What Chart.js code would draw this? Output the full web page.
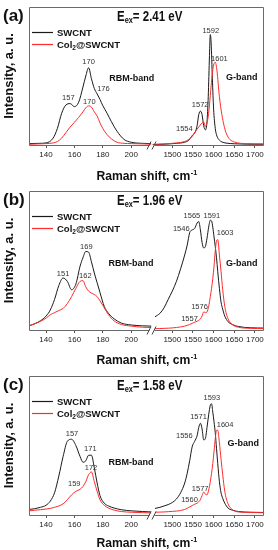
<!DOCTYPE html>
<html>
<head>
<meta charset="utf-8">
<script src="https://cdn.jsdelivr.net/npm/chart.js@4.4.1/dist/chart.umd.min.js"></script>
<style>
  html, body { margin: 0; padding: 0; background: #fff; }
  canvas { display: block; }
</style>
</head>
<body>
<canvas id="chartA" width="278" height="184"></canvas>
<canvas id="chartB" width="278" height="185"></canvas>
<canvas id="chartC" width="278" height="181"></canvas>
<script>
/* Raman spectra, SWCNT vs Col2@SWCNT, three excitation energies.
   Broken x axis: RBM range on x1, G range on x2 (stacked bottom axes). */

var rbmTicks = [140, 160, 180, 200];
var gTicks = [1500, 1550, 1600, 1650, 1700];
var seriesNames = ['SWCNT', 'Col2@SWCNT'];
var energies = ['2.41', '1.96', '1.58'];

// (a) E = 2.41 eV
var aRbmX   = [128, 135, 140, 145, 148, 151, 154, 157, 160, 163, 166, 168, 170, 172, 174, 176, 178, 180, 183, 186, 190, 195, 200, 208, 214];
var aRbmSw  = [0.01, 0.012, 0.015, 0.05, 0.12, 0.23, 0.29, 0.30, 0.278, 0.31, 0.42, 0.50, 0.56, 0.48, 0.41, 0.37, 0.33, 0.285, 0.23, 0.17, 0.10, 0.04, 0.02, 0.012, 0.01];
var aRbmCol = [0.005, 0.008, 0.01, 0.015, 0.025, 0.05, 0.09, 0.13, 0.165, 0.20, 0.24, 0.27, 0.283, 0.275, 0.24, 0.21, 0.16, 0.12, 0.075, 0.045, 0.02, 0.012, 0.01, 0.008, 0.006];
var aGX     = [1452, 1480, 1510, 1530, 1540, 1546, 1550, 1555, 1560, 1564, 1568, 1572, 1576, 1580, 1584, 1587, 1590, 1592, 1594, 1597, 1600, 1604, 1608, 1614, 1620, 1630, 1650, 1680, 1722];
var aGSw    = [0.003, 0.006, 0.012, 0.02, 0.035, 0.06, 0.075, 0.09, 0.14, 0.22, 0.245, 0.22, 0.14, 0.11, 0.17, 0.35, 0.65, 0.80, 0.74, 0.48, 0.26, 0.12, 0.065, 0.035, 0.022, 0.014, 0.009, 0.006, 0.005];
var aGCol   = [0.004, 0.008, 0.015, 0.025, 0.04, 0.055, 0.07, 0.095, 0.115, 0.13, 0.145, 0.16, 0.165, 0.135, 0.16, 0.21, 0.29, 0.36, 0.43, 0.52, 0.58, 0.60, 0.54, 0.35, 0.22, 0.09, 0.022, 0.01, 0.008];

// (b) E = 1.96 eV
var bRbmX   = [128, 132, 136, 140, 143, 146, 149, 152, 155, 158, 161, 164, 166, 168, 170, 172, 174, 176, 178, 181, 184, 188, 193, 200, 208, 214];
var bRbmSw  = [0.03, 0.045, 0.066, 0.10, 0.144, 0.22, 0.32, 0.374, 0.35, 0.29, 0.33, 0.46, 0.52, 0.565, 0.56, 0.49, 0.41, 0.34, 0.27, 0.17, 0.12, 0.08, 0.05, 0.036, 0.03, 0.028];
var bRbmCol = [0.03, 0.045, 0.062, 0.085, 0.11, 0.125, 0.14, 0.155, 0.19, 0.24, 0.30, 0.35, 0.355, 0.31, 0.28, 0.265, 0.255, 0.24, 0.21, 0.16, 0.11, 0.065, 0.04, 0.028, 0.02, 0.018];
var bGX     = [1458, 1470, 1480, 1490, 1500, 1510, 1520, 1530, 1536, 1542, 1548, 1554, 1560, 1564, 1568, 1572, 1576, 1580, 1584, 1588, 1592, 1595, 1598, 1601, 1604, 1607, 1610, 1614, 1618, 1622, 1627, 1635, 1645, 1660, 1690, 1722];
var bGSw    = [0.095, 0.12, 0.16, 0.22, 0.28, 0.35, 0.44, 0.54, 0.61, 0.70, 0.72, 0.73, 0.77, 0.78, 0.72, 0.63, 0.59, 0.60, 0.66, 0.74, 0.79, 0.785, 0.74, 0.67, 0.60, 0.52, 0.42, 0.30, 0.20, 0.15, 0.10, 0.06, 0.04, 0.025, 0.016, 0.014];
var bGCol   = [0.01, 0.01, 0.012, 0.013, 0.015, 0.018, 0.022, 0.028, 0.033, 0.04, 0.048, 0.056, 0.062, 0.07, 0.08, 0.10, 0.13, 0.125, 0.13, 0.17, 0.24, 0.30, 0.37, 0.46, 0.57, 0.64, 0.65, 0.54, 0.42, 0.29, 0.17, 0.08, 0.04, 0.02, 0.012, 0.01];

// (c) E = 1.58 eV
var cRbmX   = [128, 132, 136, 140, 143, 146, 149, 152, 155, 158, 161, 164, 166, 168, 170, 172, 174, 176, 178, 181, 184, 188, 193, 200, 208, 214];
var cRbmSw  = [0.04, 0.045, 0.055, 0.07, 0.10, 0.16, 0.28, 0.42, 0.53, 0.545, 0.50, 0.42, 0.38, 0.39, 0.43, 0.43, 0.34, 0.23, 0.14, 0.085, 0.065, 0.05, 0.038, 0.03, 0.025, 0.022];
var cRbmCol = [0.03, 0.034, 0.038, 0.043, 0.047, 0.055, 0.065, 0.08, 0.11, 0.145, 0.17, 0.185, 0.205, 0.24, 0.29, 0.31, 0.24, 0.17, 0.11, 0.07, 0.05, 0.035, 0.025, 0.02, 0.017, 0.015];
var cGX     = [1458, 1470, 1480, 1490, 1500, 1510, 1520, 1530, 1536, 1542, 1548, 1554, 1560, 1564, 1568, 1572, 1576, 1580, 1584, 1588, 1592, 1595, 1598, 1601, 1604, 1607, 1610, 1614, 1618, 1622, 1627, 1635, 1645, 1660, 1690, 1722];
var cGSw    = [0.047, 0.055, 0.065, 0.075, 0.09, 0.115, 0.16, 0.23, 0.30, 0.39, 0.49, 0.53, 0.57, 0.63, 0.66, 0.62, 0.54, 0.55, 0.63, 0.72, 0.79, 0.80, 0.74, 0.67, 0.59, 0.48, 0.37, 0.24, 0.16, 0.12, 0.085, 0.05, 0.035, 0.025, 0.02, 0.018];
var cGCol   = [0.02, 0.021, 0.022, 0.024, 0.026, 0.028, 0.032, 0.04, 0.048, 0.058, 0.068, 0.077, 0.085, 0.095, 0.11, 0.14, 0.165, 0.15, 0.145, 0.18, 0.24, 0.30, 0.37, 0.46, 0.55, 0.61, 0.61, 0.52, 0.40, 0.29, 0.17, 0.08, 0.04, 0.022, 0.018, 0.016];

// peak labels: [text, axis, x, y, bold]
var aNotes = [
    ['170', 'x1', 170, 0.60], ['157', 'x1', 155.7, 0.343], ['176', 'x1', 180.4, 0.407], ['170', 'x1', 170.5, 0.314],
    ['RBM-band', 'x1', 200.4, 0.48, 1],
    ['1592', 'x2', 1593, 0.83], ['1601', 'x2', 1614, 0.626], ['1572', 'x2', 1567.5, 0.288], ['1554', 'x2', 1529, 0.12],
    ['G-band', 'x2', 1668, 0.486, 1]
];
var bNotes = [
    ['169', 'x1', 168.4, 0.594], ['151', 'x1', 152, 0.404], ['162', 'x1', 167.7, 0.392],
    ['RBM-band', 'x1', 199.9, 0.48, 1],
    ['1565', 'x2', 1547.5, 0.823], ['1591', 'x2', 1595.6, 0.823], ['1546', 'x2', 1521.7, 0.728], ['1603', 'x2', 1627.7, 0.695],
    ['G-band', 'x2', 1668, 0.475, 1], ['1576', 'x2', 1565.8, 0.168], ['1557', 'x2', 1541.7, 0.08]
];
var cNotes = [
    ['157', 'x1', 158.3, 0.58], ['171', 'x1', 171.2, 0.473], ['172', 'x1', 171.7, 0.338], ['159', 'x1', 159.9, 0.22],
    ['RBM-band', 'x1', 199.9, 0.379, 1],
    ['1593', 'x2', 1595.6, 0.84], ['1571', 'x2', 1563.5, 0.705], ['1556', 'x2', 1529, 0.567], ['1604', 'x2', 1627.7, 0.645],
    ['G-band', 'x2', 1672, 0.515, 1], ['1577', 'x2', 1567.5, 0.19], ['1560', 'x2', 1541.7, 0.111]
];

var BLACK = '#1a1a1a', RED = '#ff2b2b', FONT = "'Liberation Sans', Arial, sans-serif";
Chart.defaults.font.family = FONT;
Chart.defaults.color = '#222';

function pts(xs, ys) {
    return xs.map(function (x, i) { return { x: x, y: ys[i] }; });
}

// text squeezed horizontally (the figure is a bit narrower than it is tall)
function squeezed(ctx, str, x, y, font, sx) {
    ctx.save();
    ctx.font = font;
    ctx.translate(x, y);
    ctx.scale(sx, 1);
    ctx.fillText(str, 0, 0);
    var w = ctx.measureText(str).width * sx;
    ctx.restore();
    return w;
}

var decor = {
    id: 'decor',
    afterDraw: function (chart, args, o) {
        var ctx = chart.ctx, a = chart.chartArea;
        var L = Math.round(a.left) + 0.5, R = Math.round(a.right) - 0.5;
        var T = Math.round(a.top) + 0.5, B = Math.round(a.bottom) + 0.5;
        var jx = chart.scales.x2.left;
        ctx.save();

        // frame with a gap where the axis breaks
        ctx.strokeStyle = '#6a6a6a';
        ctx.lineWidth = 1;
        ctx.beginPath();
        ctx.moveTo(jx - 3, B); ctx.lineTo(L, B); ctx.lineTo(L, T);
        ctx.lineTo(R, T); ctx.lineTo(R, B); ctx.lineTo(jx + 2, B);
        ctx.stroke();
        ctx.strokeStyle = '#444';
        ctx.beginPath();
        [-3.5, 1.5].forEach(function (d) {
            ctx.moveTo(jx + d - 2, B + 4); ctx.lineTo(jx + d + 2, B - 4);
        });
        ctx.stroke();

        // legend
        ctx.lineWidth = 1.2;
        ctx.fillStyle = '#111';
        ctx.textBaseline = 'alphabetic';
        [[BLACK, 32], [RED, 44]].forEach(function (row, i) {
            ctx.strokeStyle = row[0];
            ctx.beginPath();
            ctx.moveTo(32, row[1] + 0.5); ctx.lineTo(53, row[1] + 0.5);
            ctx.stroke();
            var x = 57, y = row[1] + 3.5;
            if (i === 0) {
                squeezed(ctx, seriesNames[0], x, y, 'bold 9.5px ' + FONT, 1);
            } else {
                x += squeezed(ctx, 'Col', x, y, 'bold 9.5px ' + FONT, 1);
                x += squeezed(ctx, '2', x, y + 2, 'bold 6.5px ' + FONT, 1);
                squeezed(ctx, '@SWCNT', x, y, 'bold 9.5px ' + FONT, 1);
            }
        });

        // panel letter and excitation energy
        squeezed(ctx, o.letter, 3, 21, 'bold 17px ' + FONT, 1);
        var ex = 117;
        ex += squeezed(ctx, 'E', ex, 20.5, 'bold 14px ' + FONT, 0.82);
        ex += squeezed(ctx, 'ex', ex, 23, 'bold 9px ' + FONT, 0.82);
        squeezed(ctx, '= ' + o.energy + ' eV', ex, 20.5, 'bold 14px ' + FONT, 0.82);

        // x axis title across both segments
        var tf = 'bold 13.5px ' + FONT;
        ctx.font = tf;
        var tw = (ctx.measureText('Raman shift, cm').width + 7) * 0.9;
        var tx = (a.left + a.right) / 2 - tw / 2;
        tx += squeezed(ctx, 'Raman shift, cm', tx, o.titleY, tf, 0.9);
        squeezed(ctx, '-1', tx + 0.5, o.titleY - 5, 'bold 8px ' + FONT, 0.9);

        // peak labels
        ctx.textAlign = 'center';
        ctx.textBaseline = 'middle';
        o.notes.forEach(function (n) {
            var px = chart.scales[n[1]].getPixelForValue(n[2]);
            var py = chart.scales.y.getPixelForValue(n[3]);
            ctx.fillStyle = n[4] ? '#111' : '#333';
            ctx.font = (n[4] ? 'bold 9px ' : '7.5px ') + FONT;
            ctx.fillText(n[0], px, py);
        });
        ctx.restore();
    }
};

function line(label, data, color, axis, order) {
    return {
        label: label, data: data, borderColor: color, borderWidth: 1,
        pointRadius: 0, fill: false, cubicInterpolationMode: 'monotone',
        xAxisID: axis, yAxisID: 'y', order: order
    };
}

function xAxis(min, max, weight, ticks) {
    return {
        type: 'linear', position: 'bottom', stack: 'raman', stackWeight: weight,
        min: min, max: max,
        afterBuildTicks: function (s) { s.ticks = ticks.map(function (v) { return { value: v }; }); },
        grid: { drawOnChartArea: false, tickLength: 3, color: '#555' },
        border: { display: false },
        ticks: {
            font: { size: 8 }, color: '#222', padding: 2, maxRotation: 0, autoSkip: false,
            callback: function (v) { return String(v); }
        }
    };
}

function panel(id, letter, energy, rbmX, rbmSw, rbmCol, gX, gSw, gCol, notes, padBottom, titleY) {
    return new Chart(document.getElementById(id), {
        type: 'line',
        data: {
            datasets: [
                line(seriesNames[0], pts(rbmX, rbmSw), BLACK, 'x1', 1),
                line(seriesNames[1], pts(rbmX, rbmCol), RED, 'x1', 0),
                line(seriesNames[0], pts(gX, gSw), BLACK, 'x2', 1),
                line(seriesNames[1], pts(gX, gCol), RED, 'x2', 0)
            ]
        },
        options: {
            responsive: false,
            animation: false,
            layout: { autoPadding: false, padding: { top: 7, right: 14, bottom: padBottom, left: 0 } },
            plugins: {
                legend: { display: false },
                tooltip: { enabled: false },
                decor: { letter: letter, energy: energy, notes: notes, titleY: titleY }
            },
            scales: {
                x1: xAxis(128, 215, 123.5, rbmTicks),
                x2: xAxis(1452, 1722, 111.5, gTicks),
                y: {
                    min: 0, max: 1,
                    ticks: { display: false },
                    grid: { display: false, drawTicks: false },
                    border: { display: false },
                    title: {
                        display: true, text: 'Intensity, a. u.', color: '#111',
                        font: { size: 13, weight: 'bold' }, padding: { top: 2, bottom: 11.4 }
                    }
                }
            }
        },
        plugins: [decor]
    });
}

panel('chartA', '(a)', energies[0], aRbmX, aRbmSw, aRbmCol, aGX, aGSw, aGCol, aNotes, 22.4, 180);
panel('chartB', '(b)', energies[1], bRbmX, bRbmSw, bRbmCol, bGX, bGSw, bGCol, bNotes, 22.4, 180);
panel('chartC', '(c)', energies[2], cRbmX, cRbmSw, cRbmCol, cGX, cGSw, cGCol, cNotes, 18.4, 178);
</script>
</body>
</html>
